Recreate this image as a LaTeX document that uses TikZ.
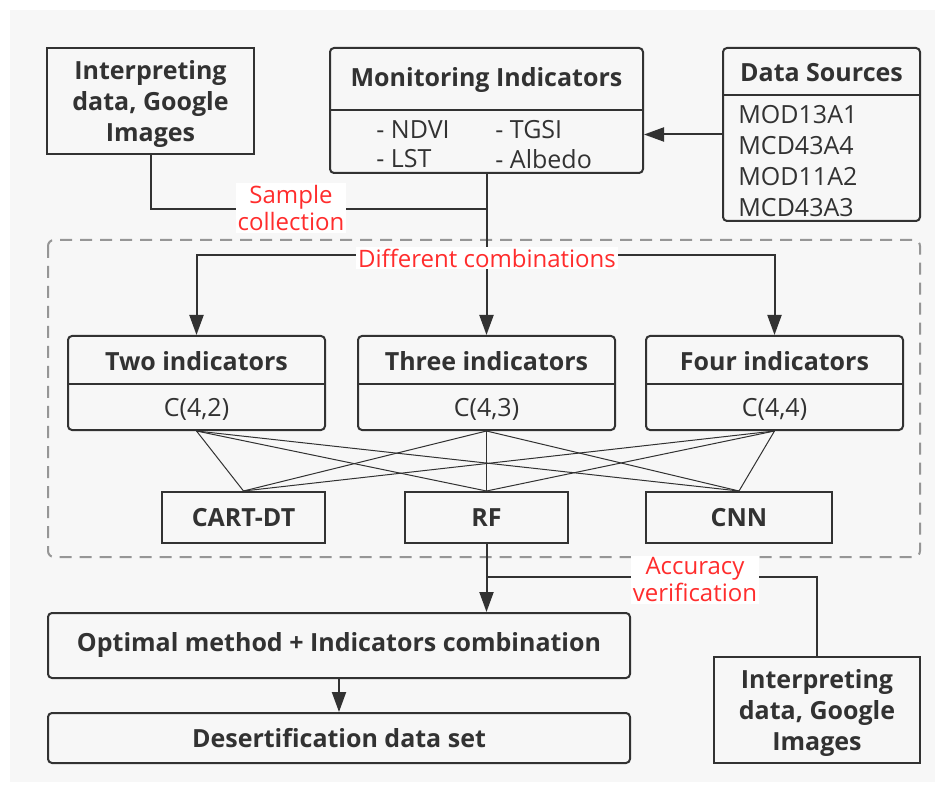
\documentclass[tikz,border=0pt]{standalone}
\usepackage{fontspec}
\setmainfont{Open Sans}
\usetikzlibrary{arrows.meta,positioning,calc}
\definecolor{labelred}{RGB}{255,45,45}
\definecolor{bggray}{RGB}{247,247,247}
\definecolor{linegray}{RGB}{50,50,50}
\definecolor{dashgray}{RGB}{150,150,150}

\begin{document}
\begin{tikzpicture}[x=0.5pt,y=-0.5pt,
    font=\fontsize{12.5}{15.5}\selectfont,
    every node/.style={text=linegray},
    box/.style={draw=linegray,line width=1pt,inner sep=0pt},
    rbox/.style={box,rounded corners=2pt},
    head/.style={font=\fontsize{12.5}{15.5}\selectfont\bfseries,align=center},
    item/.style={anchor=west,inner sep=0pt},
    tag/.style={fill=white,text=labelred,align=center,inner sep=1pt,
      font=\fontsize{12}{13.5}\selectfont},
    flow/.style={draw=linegray,line width=1pt},
    arrow/.style={flow,-{Triangle[length=10pt,width=7pt]}},
    link/.style={draw=linegray,line width=0.5pt}]
    \useasboundingbox (0,0) rectangle (943,791);
    \fill[bggray] (10,10) rectangle (935,782);
    % Dashed frame round the combinations and classifiers
    \draw[dashgray,line width=1pt,dash pattern=on 6pt off 4pt,rounded corners=3pt]
      (48,240) rectangle (920,557);

    % Top row
    \node[box,minimum width=103.5pt,minimum height=53pt,head,text depth=0pt] (interp1) at (150.5,101)
      {Interpreting\\data, Google\\Images};
    \node[rbox,minimum width=156.5pt,minimum height=62.5pt] (monit) at (486.5,110.5) {};
    \node[head] (monithead) at (486.5,80) {Monitoring Indicators};
    \draw[flow] (330,110) -- (643,110);
    \node[item] (ndvi) at (376,130) {- NDVI};
    \node[item] (lst) at (376,159) {- LST};
    \node[item] (tgsi) at (495,130) {- TGSI};
    \node[item] (albedo) at (495,159) {- Albedo};
    \node[rbox,minimum width=98.5pt,minimum height=86.5pt] (src) at (821.5,134.5) {};
    \node[head] (srchead) at (821.5,73) {Data Sources};
    \draw[flow] (723,95) -- (920,95);
    \foreach \n/\t/\y in {mod13/MOD13A1/115,mcd44/MCD43A4/146,mod11/MOD11A2/177,mcd33/MCD43A3/208} {
      \node[item] (\n) at (738,\y) {\t};
    }

    % Indicator combinations
    \foreach \n/\x/\t/\c in {two/196.5/Two/2,three/486.5/Three/3,four/774.5/Four/4} {
      \node[rbox,minimum width=128.5pt,minimum height=47pt] (\n) at (\x,383) {};
      \node[head] (\n head) at (\x,361) {\t\ indicators};
      \node (\n sub) at (\x,409) {C(4,\c)};
      \draw[flow] ({\x-128.5},384) -- ({\x+128.5},384);
    }

    % Classifiers
    \node[box,minimum width=81.5pt,minimum height=25.5pt,head] (cart) at (243.5,517.5) {CART-DT};
    \node[box,minimum width=81.5pt,minimum height=25.5pt,head] (rf) at (486.5,517.5) {RF};
    \node[box,minimum width=93pt,minimum height=25.5pt,head] (cnn) at (739,517.5) {CNN};
    \foreach \a in {two,three,four} {
      \foreach \b in {cart,rf,cnn} {
        \draw[link] (\a.south) -- (\b.north);
      }
    }

    % Bottom row
    \node[rbox,minimum width=291pt,minimum height=32.5pt,head] (optimal) at (339,645.5)
      {Optimal method + Indicators combination};
    \node[rbox,minimum width=291pt,minimum height=25pt,head] (deser) at (339,738)
      {Desertification data set};
    \node[box,minimum width=103pt,minimum height=53pt,head,text depth=0pt] (interp2) at (817,710)
      {Interpreting\\data, Google\\Images};

    % Connectors
    \coordinate (join) at (486.5,209);
    \coordinate (split) at (486.5,255);
    \coordinate (veri) at (486.5,577);
    \draw[arrow] (src.west) -- (src.west -| monit.east);
    \draw[flow] (interp1.south) |- (join);
    \draw[flow] (monit.south) -- (split);
    \draw[arrow] (split) -| (two.north);
    \draw[arrow] (split) -- (three.north);
    \draw[arrow] (split) -| (four.north);
    \draw[arrow] (rf.south) -- (rf.south |- optimal.north);
    \draw[flow] (interp2.north) |- (veri);
    \draw[arrow] (optimal.south) -- (deser.north);

    % Red labels on the lines
    \node[tag] (sample) at (291,208) {Sample\\collection};
    \node[tag] (combi) at (487,258) {Different combinations};
    \node[tag] (accuracy) at (695,580) {Accuracy\\verification};
  \end{tikzpicture}
\end{document}
